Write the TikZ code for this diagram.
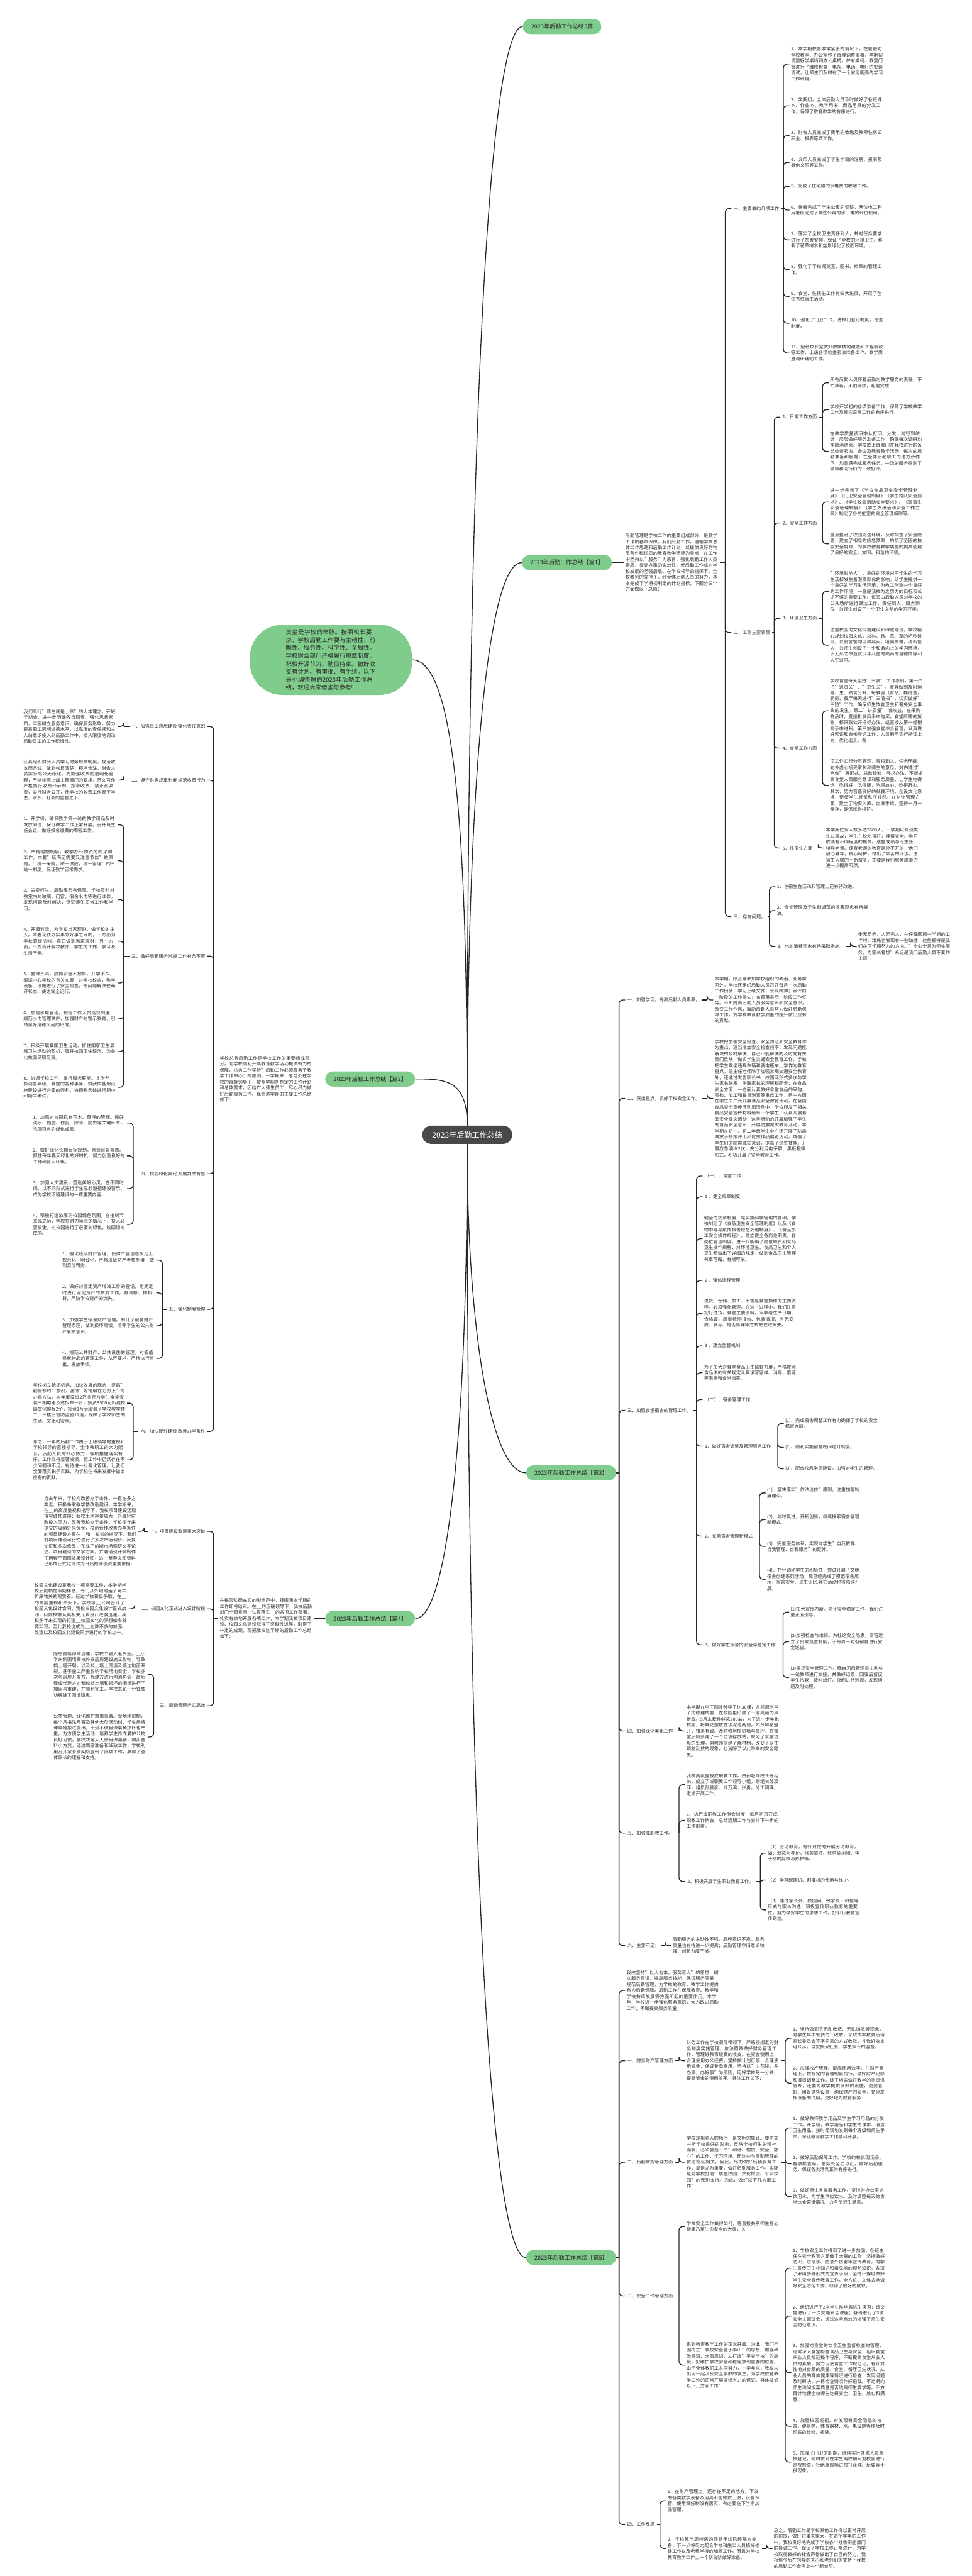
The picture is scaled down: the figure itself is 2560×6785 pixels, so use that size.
\documentclass[tikz,border=0pt]{standalone}
\usepackage{fontspec}
\setmainfont{Noto Sans CJK SC}
\usetikzlibrary{calc, positioning}
\XeTeXlinebreaklocale "zh"
\XeTeXlinebreakskip = 0pt plus 0.5pt
\definecolor{mygreen}{RGB}{128,204,140}
\definecolor{mydark}{RGB}{72,72,72}
\definecolor{mytext}{RGB}{45,45,45}
\newcommand{\tf}{\fontsize{3.41pt}{4.47pt}\selectfont}
% bracket connectors: parent to a list of children
\newcommand{\linkr}[2]{\foreach \ch in {#2}{%
  \draw[link] (#1.east) -- ([xshift=-1.6mm]#1.east -| \ch.west);
  \draw[link, rounded corners=1mm] ([xshift=-1.6mm]#1.east -| \ch.west) |- (\ch.west);}}
\newcommand{\linkl}[2]{\foreach \ch in {#2}{%
  \draw[link] (#1.west) -- ([xshift=1.6mm]#1.west -| \ch.east);
  \draw[link, rounded corners=1mm] ([xshift=1.6mm]#1.west -| \ch.east) |- (\ch.east);}}
\tikzset{
  txt/.style={font=\tf, text=mytext, text width=24.4mm, align=left, inner sep=0pt, outer xsep=0.4mm},
  lbl/.style={font=\tf, text=mytext, inner sep=0pt, outer xsep=0.6mm},
  pill/.style={fill=mygreen, rounded corners=2mm, minimum height=4mm, inner xsep=2.2mm, inner ysep=0pt, font=\fontsize{4.3pt}{5pt}\selectfont, text=black!85},
  centre/.style={fill=mydark, rounded corners=2.4mm, minimum height=4.8mm, inner xsep=2.6mm, font=\fontsize{5.7pt}{6.5pt}\selectfont, text=white},
  bubble/.style={fill=mygreen, rounded corners=8.5mm, minimum width=42.7mm, minimum height=17.9mm, text width=23.8mm, align=left, font=\fontsize{4.45pt}{5.95pt}\selectfont, text=black!85},
  link/.style={draw=black!85, line width=0.22mm},
  under/.style 2 args={anchor=north west, at={($(#1.south -| #2,0)+(0,42.3)$)}},
  midr/.style n args={3}{anchor=west, at={($(#1.west)!0.5!(#2.west)+(#3,0)$)}},
  midl/.style n args={3}{anchor=east, at={($(#1.east)!0.5!(#2.east)+(#3,0)$)}},
}
\begin{document}
\begin{tikzpicture}[x=0.1mm, y=-0.1mm]
\fill[white] (0,0) rectangle (2560,6785);
\useasboundingbox (0,0) rectangle (2560,6785);

\node[centre] (c) at (1231,2989) {2023年后勤工作总结};
\node[pill] (top) at (1481,70) {2023年后勤工作总结5篇};
\node[bubble] (intro) at (872,1738) {资金是学校的命脉。按照校长要求，学校后勤工作要有主动性、前瞻性、服务性、科学性、全局性。学校财会部门严格履行规章制度，积极开源节流、勤俭持家。做好收支有计划、有审批、有手续。以下是小编整理的2023年后勤工作总结，欢迎大家借鉴与参考!};

% ---------- 篇1 ----------
\node[txt, anchor=north west] (a1) at (2080,123) {1、本学期校舍非常紧张的情况下，在暑假对全校教室、办公室作了合理调整部署，学期初调整好学桌椅和办公桌椅，并对桌椅、教室门窗进行了维修检查，电视、电话、电灯的安装调试，让师生们及时有了一个安定明亮的学习工作环境。};
\node[txt, under={a1}{2080}] (a2) {2、学期初，全体后勤人员及时做好了各班课本、作业本、教学用书、用品用具的分发工作，保障了教育教学的有序进行。};
\node[txt, under={a2}{2080}] (a3) {3、财会人员完成了费用的收缴及教师住房公积金、报表等项工作。};
\node[txt, under={a3}{2080}] (a4) {4、文印人员完成了学生学籍的注册、报表及其他文印等工作。};
\node[txt, under={a4}{2080}] (a5) {5、完成了住宅楼的水电费的收缴工作。};
\node[txt, under={a5}{2080}] (a6) {6、暑假完成了学生公寓的调整，两位电工利用暑假完成了学生公寓的水、电的到位使用。};
\node[txt, under={a6}{2080}] (a7) {7、落实了全校卫生责任到人，并对任务要求进行了布置安排，保证了全校的环境卫生。移栽了花草树木和盆景绿化了校园环境。};
\node[txt, under={a7}{2080}] (a8) {8、强化了学校阅览室、图书、档案的管理工作。};
\node[txt, under={a8}{2080}] (a9) {9、食堂、住宿生工作有较大进展，开展了创优秀住宿生活动。};
\node[txt, under={a9}{2080}] (a10) {10、强化了门卫工作，进校门登记制度，巡查制度。};
\node[txt, under={a10}{2080}] (a11) {11、配合校长室做好教学楼的建造和工程验收等工作、上级各项检查验收准备工作、教学质量调研辅助工作。};
\node[txt, under={a11}{2183}] (b1) {所有后勤人员怀着后勤为教学服务的责任，不怕辛苦，不怕麻烦，超前完成};
\node[txt, under={b1}{2183}] (b2) {学校开学初的各项准备工作，保障了学校教学工作及其它日常工作的有序进行。};
\node[txt, under={b2}{2183}] (b3) {在教学质量调研中从打印、分发、封钉到统计，层层做好服务准备工作，确保每次调研均能圆满结束。学校或上级部门在我校进行的各类检查验收、会议及教育教学活动，每次的后勤准备和服务，在全体后勤职工的通力合作下，均圆满完成服务任务，一流的服务得到了领导和同行们的一致好评。};
\node[txt, under={b3}{2183}] (c1) {进一步完善了《学校食品卫生安全管理制度》《门卫安全管理制度》《学生路队安全要求》、《学生校园活动安全要求》、《寄宿生安全管理制度》《学生外出活动安全工作方案》制定了各功能室的安全管理细则等。};
\node[txt, under={c1}{2183}] (c2) {重点整治了校园周边环境，及时排查了安全隐患，建立了相应的应急预案，构筑了坚固的校园安全屏障，为学校教育教学质量的提高创建了良好的安全、文明、和谐的环境。};
\node[txt, under={c2}{2183}] (d1) {"环境影响人"，良好的环境对于学生的学习生活都发生着潜移默化的影响。给学生提供一个良好的学习生活环境，为教工创造一个良好的工作环境，一直是我校为之努力的目标和长抓不懈的重要工作。每天由后勤人员对学校的公共场所进行保洁工作，责任到人，服务到位，为师生创设了一个卫生文明的学习环境。};
\node[txt, under={d1}{2183}] (d2) {注重校园的文化设施建设和绿化建设。学校精心规划校园文化，以林、路、花、草的巧秒设计，以名言警句点缀其间，精美高雅，清新怡人，为师生创设了一个和谐向上的学习环境，于无形之中造就少年儿童的高尚的道德情操和人生追求。};
\node[txt, under={d2}{2183}] (e1) {学校食堂每天坚持"三项" 工作原则，第一严把"进货关"、"卫生关"。餐具做到及时消毒，生、熟食分开，每餐留（食品）样待查，厨房、餐厅每天进行"三清扫"，切实做好"三防"工作，确保师生饮食卫生和避免安全事故的发生。第二"讲质量" 增效益，在采购物品时，直接批发商手中购买。食堂所需的货物，都采取公开招标办法，或直接从第一经销商手中进货。第三加强食堂综合管理，认真做好索证和台帐登记工作，人员聘用实行持证上岗，优化组合。各};
\node[txt, under={e1}{2183}] (e2) {项工作实行分层管理，责权到人，任务明确。对外虚心接受家长和师生的意见，对内通过"例会" 等形式，总结经验，寻求办法，不断提高食堂人员服务意识和服务质量，让学生吃得饱，吃得好，吃得暖，吃得放心，吃得舒心。其次，努力营造良好的就餐环境，创设文化意境，促使学生就餐秩序井然。在财物管理方面，建全了物资入库、出库手续，坚持一月一盘存，确保帐物相符。};
\node[txt, under={e2}{2172}] (f1) {本学期住宿人数多达2600人，一学期以来没发生过事故，学生在校吃得好，睡得安全。学习成绩有不同程度的提高。这些成绩与班主任、辅导老师、保育老师的教育是分不开的，他们耐心辅导，精心呵护，付出了辛苦的汗水。住宿生人数的不断增多，主要是我们服务质量的进一步提高所然。};
\node[txt, under={f1}{2043}] (g1) {1、住宿生在活动和管理上还有待改进。};
\node[txt, under={g1}{2043}] (g2) {2、食堂管理及学生剩饭菜的浪费现象有待解决。};
\node[txt, under={g2}{2257}] (g4) {金无足赤，人无完人，在仔细回顾一学期的工作时，难免也发现有一些缺憾，这些都将是我们在下学期努力的方向。"全心全意为师生服务，为家长着想"永远是我们后勤人员不变的主题!};
\node[lbl, midr={g4}{g4}{-214}] (g3) {3、电的浪费现象有待采取措施。};
\node[lbl, midr={a1}{a11}{-153}] (l11) {一、主要做的几项工作};
\node[lbl, midr={b1}{b3}{-127}] (m1) {1、日常工作方面};
\node[lbl, midr={c1}{c2}{-127}] (m2) {2、安全工作方面};
\node[lbl, midr={d1}{d2}{-127}] (m3) {3、环境卫生方面};
\node[lbl, midr={e1}{e2}{-127}] (m4) {4、食堂工作方面};
\node[lbl, midr={f1}{f1}{-116}] (m5) {5、住宿生方面};
\node[lbl, midr={m1}{m5}{-129}] (l12) {二、工作主要表现};
\node[lbl, midr={g1}{g3}{-116}] (l13) {三、存在问题。};
\node[txt, midr={l11}{l13}{-283}] (in1) {后勤管理是学校工作的重要组成部分，是教学工作的基本保障。我们后勤工作，遵循学校总体工作思路和后勤工作计划，以提供良好的物质条件和优质的教育教学环境为重点，在工作中坚持以"服务"为宗旨，强化后勤工作人员素质，提高办事的实效性，使后勤工作成为学校发展的坚强后盾。在学校领导的指挥下，全校教师的支持下，经全体后勤人员的努力，基本完成了学期初制定的计划指标，下面分三个方面做以下总结：};
\node[pill, anchor=east] (p1) at ($(in1.west)+(-31,0)$) {2023年后勤工作总结【篇1】};

% ---------- 篇3 ----------
\node[txt, under={g4}{1879}] (h1) {本学期，除正常参加学校组织的政治、业务学习外，学校还组织后勤人员召开每月一次后勤工作例会，学习上级文件、会议精神；点评前一阶段的工作得失；布置落实后一阶段工作任务。不断提高后勤人员服务意识和安全意识，改变工作作风，鼓励后勤人员努力做好后勤保障工作，为学校教育教学质量的提升做出应有的贡献。};
\node[txt, under={h1}{1879}] (h2) {学校把加强安全检查、安全防范和安全教育作为重点，适当增加安全检查频率，发现问题能解决的及时解决，自己不能解决的及时向有关部门反映；做实学生交通安全教育工作，学校把学生乘坐违规车辆和骑电瓶车上学作为教育重点，班主任老师除了加强常规交通安全教育外，还通过发告家长书、校园网形式多次与学生家长联系，争取家长的理解和配合；在食品安全方面，一方面认真做好食堂食品的采购、质检、加工和餐具消毒等重点工作，另一方面在学生中广泛开展食品安全教育活动，在全国食品安全宣传活动周活动中，学校印发了相关食品安全宣传材料给每一个学生，认真开展食品安全征文活动，这些活动的开展增强了学生的食品安全意识；开展防震减灾教育活动，本学期在初一、初二年级学生中广泛开展了防震减灾手抄报评比和优秀作品展览活动，增强了学生们的防震减灾意识，提高了逃生技能。开展应急演练2次，充分利用电子屏、黑板报等形式，积极开展了安全教育工作。};
\node[lbl, under={h2}{1851}] (h3) {（一）、食堂工作};
\node[lbl, under={h3}{1851}] (h4) {1 、健全规章制度};
\node[txt, under={h4}{1851}] (h5) {健全的规章制度，是实施科学管理的基础，学校制定了《食品卫生安全管理制度》以及《食物中毒与疫情报告应急处理制度》、《食品加工安全操作规程》，建立健全各岗位职责，各岗位管理制度，进一步明确了岗位职责和食品卫生操作规程，对环境卫生、食品卫生和个人卫生都做出了详细的规定，做到食品卫生管理有章可循，有规可依。};
\node[lbl, under={h5}{1851}] (h6) {2 、强化流程管理};
\node[txt, under={h6}{1851}] (h7) {进货、仓储、加工、出售是食堂操作的主要流程，必须强化管理。在这一过程中，我们注意把好进货，食堂主要原料，采取看生产日期、合格证、质量检测报告、包装情况、有无变质、发芽、是否新鲜等方式把住进货关。};
\node[lbl, under={h7}{1851}] (h8) {3 、建立监督机制};
\node[txt, under={h8}{1851}] (h9) {为了加大对食堂食品卫生监督力度，严格按照食品法的有关规定认真填写留样、消毒、索证等表格和食堂档案。};
\node[lbl, under={h9}{1851}] (h10) {（二）、宿舍管理工作};
\node[txt, under={h10}{2065}] (j1) {(1)、完成宿舍调整工作有力确保了学校的安全稳定大局。};
\node[txt, under={j1}{2065}] (j2) {(2)、顺利实施宿舍晚间熄灯制度。};
\node[txt, under={j2}{2065}] (j3) {(3)、配合校风学风建设，加强对学生的管理。};
\node[txt, under={j3}{2017}] (k1) {(1)、坚决落实"依法治校"原则，注重加强制度建设。};
\node[txt, under={k1}{2017}] (k2) {(2)、与时俱进，开拓创新，继续探索宿舍管理新模式。};
\node[txt, under={k2}{2017}] (k3) {(3)、完善服务体系，实现向学生"自我教育、自我管理、自我服务"的延伸。};
\node[txt, under={k3}{2017}] (k4) {(4)、充分调动学生的积极性，尝试开展了文明宿舍创建系列活动，现已经完成了模范宿舍展示，宿舍安全、卫生评比,其它活动也将陆续开展。};
\node[txt, under={k4}{2079}] (n1) {(1)加大宣传力度。对于安全稳定工作，我们注重正面引导。};
\node[txt, under={n1}{2079}] (n2) {(2)加强检查与维修。为杜绝安全隐患，宿管建立了例常巡查制度，于每周一对各宿舍进行安全巡查。};
\node[txt, under={n2}{2079}] (n3) {(3)重视安全管理工作。晚自习后管理员主动与一线教师进行交接，并做好记录；回寝后督促学生洗簌，按时熄灯，夜间进行巡视，发现问题及时处理。};
\node[lbl, midr={j1}{j3}{-214}] (h11) {1、做好宿舍调整及管理服务工作};
\node[lbl, midr={k1}{k4}{-166}] (h12) {2、完善宿舍管理新模式};
\node[lbl, midr={n1}{n3}{-228}] (h13) {3、做好学生宿舍的安全与稳定工作};
\node[txt, under={n3}{1805}] (q1) {本学期在李子园补种李子树30棵，并将原有李子树修建成型，在校园里形成了一道亮丽的风景线。5月末栽种鲜花200盆，为了进一步美化校园，将鲜花摆放在水泥道两侧，如今鲜花盛开，错落有致。及时修剪榆树墙与草坪。在食堂后侧新建了一个垃圾存放站，规范了食堂垃圾的处理。男教师搭建了烧材棚，改变了以往烧材乱放的现象，也消除了以此带来的安全隐患。};
\node[txt, under={q1}{1805}] (r1) {我校高度重视成职教工作，由孙艳辉校长任组长，成立了成职教工作领导小组，副组长邹凌菲，组员孙曾彦、叶万滨、张勇。分工明确，定期开展工作。};
\node[txt, under={r1}{1805}] (r2) {1、执行成职教工作例会制度，每月初召开成职教工作例会，总结近期工作与安排下一步的工作部署。};
\node[txt, under={r2}{2019}] (s1) {（1）劳动教育，有针对性的开展劳动教育，如：栽花与养护，修剪草坪、修剪榆树墙、李子树的剪枝与养护等。};
\node[txt, under={s1}{2019}] (s2) {（2）学习绿篱机、割灌机的使用与维护。};
\node[txt, under={s2}{2019}] (s3) {（3）通过家长会、校园网、致家长一封信等形式与家长沟通，积极宣传职业教育的重要性，努力做好学生的思想工作，把职业教育宣传到位。};
\node[lbl, midr={s1}{s3}{-214}] (r3) {2、积极开展学生职业教育工作。};
\node[txt, under={s3}{1768}] (t1) {后勤服务的主动性不强，品牌意识不高，服务质量也有待进一步提高；后勤管理守旧意识较强，创新力度不够。};
\node[lbl, midr={h1}{h1}{-232}] (l31) {一、加强学习，提高后勤人员素养。};
\node[lbl, midr={h2}{h2}{-232}] (l32) {二、突出重点，抓好学校安全工作。};
\node[lbl, midr={h3}{h13}{-204}] (l33) {三、加强食堂宿舍的管理工作。};
\node[lbl, midr={q1}{q1}{-158}] (l34) {四、加强绿化美化工作};
\node[lbl, midr={r1}{r3}{-158}] (l35) {五、加强成职教工作。};
\node[lbl, midr={t1}{t1}{-121}] (l36) {六、主要不足：};
\node[pill, anchor=east] (p3) at ($(l31.west)!0.5!(l36.west)+(-23,0)$) {2023年后勤工作总结【篇3】};

% ---------- 篇5 ----------
\node[txt, under={t1}{1647}] (u0) {我校坚持"以人为本，服务育人"的思想，树立服务意识，提高服务技能，保证服务质量，规范后勤管理，为学校的教育、教学工作提供有力后勤保障。后勤工作在保障教育、教学和学校持续发展等方面所起的重要作用。本学年，学校进一步强化服务意识，大力改进后勤工作，不断提高服务质量。};
\node[txt, under={u0}{2085}] (v1) {1、坚持做到了无乱收费、无乱摊派等现象，对学生早中餐费的'收取，采取成本核算后请家长委员会签字同意的方式收取，并做好收支月公示，自觉接受社会、学生家长的监督。};
\node[txt, under={v1}{2085}] (v2) {2、加强校产管理、提高使用效率。在财产管理上，按规定的管理制度执行，做好财产记账和报损调整工作。除了切实做好教学的物资供应外，还要为教学提供良好的设施，更要管好、用好这些设施，确保财产的安全，充分发挥设备的作用，更好地为教育服务};
\node[txt, midr={v1}{v2}{-280}] (w1) {财务工作在学校领导带领下，严格按规定的财务制度实施管理，依法照章做好财务管理工作，管理好教育经费的收支。在资金使用上，合理使用办公经费，坚持按计划行事，合理使用资金，保证专款专用，坚持以"少花钱，多办事，办好事"为原则，用好学校每一分钱，提高资金的使用效率。具体工作如下：};
\node[txt, under={v2}{2085}] (x1) {1、做好教师教学用品及学生学习用品的分发工作。开学初，教学用品和学生的课本、清洁卫生用品，按时无误地发到每个班级和师生手中，保证教育教学工作顺利开展。};
\node[txt, under={x1}{2085}] (x2) {2、做好后勤保障工作。学校的校长现场会、各项检查等，总务处全力以赴，做好后勤服务，保证各类活动正常有序进行。};
\node[txt, under={x2}{2085}] (x3) {3、做好师生各类服务工作。坚持为办公室送饮用水，为学生供应饮水。及时调整每天的食堂饮食菜谱情况，力争使师生满意。};
\node[txt, midr={x1}{x3}{-280}] (w2) {学校是培养人的场所，是文明的象征。要树立一所学校良好的形象，反映全校师生的精神面貌，必须营造一个"和谐、愉悦、安全、舒心"的工作、学习环境。而这些与后勤管理的优劣密切相关。因此，尽力做好后勤服务工作，显得尤为重要，做好后勤服务工作，实际是对学校打造"质量校园、文化校园、平安校园"的无形支持。为此，做好以下几方面工作：};
\node[txt, under={x3}{1805}] (y0) {学校安全工作做得如何，将直接关系师生身心健康乃至生命安全的大事，关};
\node[txt, under={y0}{2085}] (y1) {1、学校安全工作得到了进一步加强，各班主任在安全教育方面做了大量的工作，坚持做好防火、防溺水、防意外伤害等宣传教育，向学生宣传卫生小知识和常见病的预防知识。各班了采用多种形式的宣传手段，坚持不懈地做好学生安全宣传教育工作，全方位、立体式地做好安全防范工作，取得了很好的成效。};
\node[txt, under={y1}{2085}] (y2) {2、组织进行了2次学生防地震逃生演习；请交警进行了一次交通安全讲座；各班进行了3次安全主题班会，通过这些有效的增强了师生安全防范意识。};
\node[txt, under={y2}{2085}] (y3) {3、加强对食堂的饮食卫生监督检查的管理，经常深入食堂检查食品卫生与安全，组织食堂从业人员规范操作程序，不断提高食堂从业人员的素质，努力促使食堂工作规范化。有针对性地对食品的质量、食堂、餐厅卫生状况、从业人员的身体健康等情况进行检查，发现问题及时解决，并将检查情况作好记载。不定期向师生询问饭菜质量是否达到师生要求等，千方百计地使全校师生吃得安全、卫生、放心和满意。};
\node[txt, under={y3}{2085}] (y4) {4、加强校园巡视，对发现有安全隐患的校舍、建筑物、体育器材、水、电设施等作及时彻底的维修、排除。};
\node[txt, under={y4}{2085}] (y5) {5、加强了门卫的职能，继续实行外来人员来校登记，同时做到在学生离校期间对校园进行巡视检查，杜绝爬围墙进校打篮球、玩耍等不良现象。};
\node[txt, midr={y1}{y5}{-280}] (w3) {系到教育教学工作的正常开展。为此，我们牢固树立"学校安全重于泰山"的思想，增强政治意识、大局意识，从打造"平安学校"的高度，把维护学校安全和稳定放到重要的位置。由于全体教职工共同努力，一学年来，我校未出现一起涉及安全事故的发生，为学校教育教学工作的正常开展提供有力的保证。具体做好以下几方面工作：};
\node[txt, under={y5}{1755}] (z1) {1、在财产管理上，还存在不足的地方，下发的各类教学设备及用具不能如数上缴，设备保管、使用责任制没有落实，有必要在下学期加强管理。};
\node[txt, under={z1}{2035}] (z3) {总之，后勤工作是学校其他工作得以正常开展的前提，做好它事关重大，在这个学年的工作中，我校良好地完成了学校各个社会职能部门的协调工作，保证了学校工作正常进行，为学校取得良好的社会声誉做出了自己的努力。我相信今后在领导的关心和老师们的支持下我校的后勤工作会再上一个新台阶。};
\node[txt, midr={z3}{z3}{-280}] (z2) {2、学校教学周转房的修建手续已经基本完备，下一步将尽力配合学校和施工人员搞好修建工作以及老教学楼的加固工作，而且为学校教育教学工作上一个新台阶做好准备。};
\node[lbl, midr={w1}{w1}{-158}] (l51) {一、财务财产管理方面};
\node[lbl, midr={w2}{w2}{-158}] (l52) {二、后勤常规管理方面};
\node[lbl, midr={y0}{w3}{-158}] (l53) {三、安全工作管理方面};
\node[lbl, midr={z1}{z2}{-108}] (l54) {四、工作反思};
\node[pill, anchor=east] (p5) at ($(u0.west)!0.5!(l54.west)+(-23,0)$) {2023年后勤工作总结【篇5】};

% ---------- 篇2 ----------
\node[txt, anchor=north west] (L1) at (58,1868) {我们奉行"师生就是上帝"的人本理念，开好学期会。进一步明确各自职责，强化思想素质，牢固树立服务意识，确保服务形象。努力提高职工思想道德水平，以高度的责任感和主人翁意识投入到后勤工作中，极大限度地调动后勤员工的工作积极性。};
\node[txt, under={L1}{58}] (L2) {认真组织财会人员学习财务规章制度，规范收支两条线。做到帐目清楚，程序合法，财会人员实行办公无纸化。为加强收费的透明化管理，严格按照上级主管部门的要求，范文写作严格执行收费公示制，按章收费，禁止乱收费，实行财务公开，使学校的收费工作置于学生、家长、社会的监督之下。};
\node[txt, under={L2}{58}] (M1) {1、开学初，确保教学第一线的教学用品及时发放到位，保证教学工作正常开展。召开班主任会议，做好报名缴费的周密工作。};
\node[txt, under={M1}{58}] (M2) {2、严格购物制度，教学办公物资的的采购工作，本着"既满足需要又注重节俭"的原则，"统一采购，统一供应，统一管理"的三统一制度，保证教学正常需求。};
\node[txt, under={M2}{58}] (M3) {3、关爱师生，后勤服务有保障。学校及时对教室内的玻璃、门窗，宿舍水电等进行维修，发现问题及时解决，保证师生正常工作和学习。};
\node[txt, under={M3}{58}] (M4) {4、开源节流，为学校当家理财，做学校的主人。本着花钱办实事办好事之目的，一方面为学校算经济帐，真正做到当家理财；另一方面，千方百计解决教师、学生的工作、学习及生活所需。};
\node[txt, under={M4}{58}] (M5) {5、警钟长鸣，狠抓安全不放松。开学不久，根据中心学校的有关布置，对学校校舍，教学设备、设施进行了安全检查，把问题解决在萌芽状态，使之安全运行。};
\node[txt, under={M5}{58}] (M6) {6、加强水电管理。制定工作人员巡视制度，规范水电管理秩序，加强财产的警示教育，引领良好道德风尚的形成。};
\node[txt, under={M6}{58}] (M7) {7、积极开展爱国卫生运动。抓住国家卫生县城卫生运动的契机，展开校园卫生整治，为美化校园尽职尽责。};
\node[txt, under={M7}{58}] (M8) {8、协调学校工作，履行服务职能。本学年，协调各年级、食堂的各种事务，对我校基础设施建设进行必要的倾斜，协调教务处进行期中和期末考试。};
\node[txt, under={M8}{83}] (N1) {1、加强对校园已有花木、草坪的管理。抓好浇水、施肥、修剪、除草、防虫等关键环节，巩固已有的绿化成果。};
\node[txt, under={N1}{83}] (N2) {2、做好绿化长期目标规划，营造良好氛围。抓住每年春天绿化的好时机，努力创造良好的工作和育人环境。};
\node[txt, under={N2}{83}] (N3) {3、加强人文建设，塑造美好心灵。在不同时间、以不同形式进行学生思想道德建设警示，成为学校环境建设的一项重要内容。};
\node[txt, under={N3}{83}] (N4) {4、积极打造浓厚的校园绿色氛围。在植树节来临之际，学校在财力紧张的情况下，投入必要资金，对校园进行了必要的绿化，校园绿树成荫。};
\node[txt, under={N4}{160}] (O1) {1、强化班级财产管理，使财产管理逐步走上规范化，明细化，严格班级财产考核制度，做到奖优罚劣。};
\node[txt, under={O1}{160}] (O2) {2、做好对固定资产增减工作的登记，定期定时进行固定资产的核对工作，做到帐、物相符，严防学校财产的流失。};
\node[txt, under={O2}{160}] (O3) {3、加强学生宿舍财产管理。制订了宿舍财产管理条理，做到损坏赔偿，培养学生的公共财产爱护意识。};
\node[txt, under={O3}{160}] (O4) {4、规范公共财产、公共设施的管理。对低值易耗物品的管理工作，从严要求，严格执行审批、发放手续。};
\node[txt, under={O4}{83}] (Q1) {学校树立抢抓机遇、加快发展的观念，提倡"勤俭节约"意识，坚持"好钢用在刀刃上"的办事方法，本年度投资2万多元为学生食堂安装三相电路及煮饭车一台，投资8500元新建校园文化展板2个，投资1万元安装了学校教学楼二、三楼后窗防盗窗17道，保障了学校师生的生活、文化和安全。};
\node[txt, under={Q1}{83}] (Q2) {总之，一年的后勤工作由于上级领导的重视和学校领导的直接指导，全体教职工的大力配合，后勤人员的齐心协力，各项措施落实有序，工作取得显著成绩。但工作中仍然存在不少问题和不足，有待进一步强化管理。让我们全面落实锐于实践，为学校在将来发展中做出应有的贡献。};
\node[lbl, midl={L1}{L1}{237}] (l21) {一、加强员工思想建设 强化责任意识};
\node[lbl, midl={L2}{L2}{237}] (l22) {二、遵守财务规章制度 规范收费行为};
\node[lbl, midl={M1}{M8}{237}] (l23) {三、做好后勤服务常规 工作有条不紊};
\node[lbl, midl={N1}{N4}{212}] (l24) {四、校园绿化美化 开展井然有序};
\node[lbl, midl={O1}{O4}{135}] (l25) {五、强化制度管理};
\node[lbl, midl={Q1}{Q2}{212}] (l26) {六、加快硬件建设 改善办学条件};
\node[txt, midl={l21}{l26}{280}] (in2) {学校总务后勤工作是学校工作的重要组成部分。为学校顺利开展教育教学活动提供有力的保障，总务工作坚持"后勤工作必须服务于教学工作中心"的原则。一学期来，总务处在学校的直接领导下，按照学期初制定的工作计划和总体要求，团结广大师生员工，尽心尽力做好后勤服务工作。现将这学期的主要工作总结如下：};
\node[pill, anchor=west] (p2) at ($(in2.east)+(29,0)$) {2023年后勤工作总结【篇2】};

% ---------- 篇4 ----------
\node[txt, under={Q2}{112}] (R1) {自去年来，学校为改善办学条件，一直在多方奔走、积极争取教学楼改造建设，本学期来，在\_\_的高度重视和指导下，我校项目建设迈取得突破性进展：我校土地存量较大，为减轻财政投入压力，改善我校办学条件，学校多年来提交的吸纳外来资金，校商合作改善办学条件的项目建设方案在\_\_和\_\_校长的指导下，我们对项目建设可行性进行了多次市场调研，反复论证和多次修改，完成了前期市场调研文字论述、项目建设的文字方案，并聘请设计院制作了两套平面图效果设计图，这一整套文图资料已形成正式定论作为日后招商引资重要依据。};
\node[txt, under={R1}{87}] (R2) {校园文化建设是我校一项重要工作，本学期学校后勤牺牲假期休息，专门从外地购运了两车价廉物美的观赏石。经过学校积极争取，在\_\_的高度重视和牵头下，学校与\_\_公司签订了校园文化设计合同，我校校园文化设计正式启动，目前校徽及其相关元素设计进展迅速。我校多年未实现的打造\_\_校园文化的梦想如今就要实现，至此我校也成为\_\_为数不多的加固、改造以及校园文化建设同步进行的学校之一。};
\node[txt, under={R2}{137}] (S1) {隐患围墙得到治理，学校节省大笔资金。\_\_小学东侧围墙受校外安居房建设施工影响，导致挡土墙开裂，以及挡土墙上围墙及墙边地面开裂，基于施工严重影响学校场地安全，学校多次与房屋开发方、代建方进行沟通协调，最后促成代建方对我校挡土墙和损坏的围墙进行了加固与重建，并顺利完工，学校未花一分钱成功解除了围墙隐患。};
\node[txt, under={S1}{137}] (S2) {公物管理、绿化维护效果显著。受场地限制，每个月书法月赛及其他大型活动时，学生需将课桌椅搬进搬出，十分不便且课桌椅损坏也严重，为方便学生活动，培养学生养成爱护公物良好习惯，学校决定人人使用课桌套，购买塑料小方凳。经过周密准备和细致工作，学校利用召开家长会契机宣传了此项工作，赢得了全体家长的理解和支持。};
\node[lbl, midl={R1}{R1}{183}] (l41) {一、项目建设取得重大突破};
\node[lbl, midl={R2}{R2}{208}] (l42) {二、校园文化正式进入设计阶段};
\node[lbl, midl={S1}{S2}{158}] (l43) {三、后勤管理务实高效};
\node[txt, midl={l41}{l43}{280}] (in4) {在每天忙碌充实的脚步声中，转眼间本学期的工作即将结束。在\_\_的正确领导下，我校后勤部门全面贯彻、认真落实\_\_的各项工作部署，扎实有效地开展各项工作，本学期我校项目建设、校园文化建设取得了突破性进展，取得了一定的成绩，现把我校这学期的后勤工作总结如下：};
\node[pill, anchor=west] (p4) at ($(in4.east)+(29,0)$) {2023年后勤工作总结【篇4】};

% ---------- connectors ----------
\draw[link] (c.north) .. controls +(0,-1800) and +(-90,0) .. (top.west);
\draw[link] (c.north) .. controls +(0,-700) and +(120,0) .. (intro.east);
\draw[link] (c.north) .. controls +(0,-900) and +(-90,0) .. (p1.west);
\draw[link] (c.north) .. controls +(0,-120) and +(80,0) .. (p2.east);
\draw[link] (c.south) .. controls +(0,500) and +(-90,0) .. (p3.west);
\draw[link] (c.south) .. controls +(0,800) and +(80,0) .. (p4.east);
\draw[link] (c.south) .. controls +(0,1900) and +(-90,0) .. (p5.west);

\draw[link] (p1.east) -- (in1.west);
\linkr{in1}{l11,l12,l13}
\linkr{l11}{a1,a2,a3,a4,a5,a6,a7,a8,a9,a10,a11}
\linkr{l12}{m1,m2,m3,m4,m5}
\linkr{m1}{b1,b2,b3}
\linkr{m2}{c1,c2}
\linkr{m3}{d1,d2}
\linkr{m4}{e1,e2}
\linkr{m5}{f1}
\linkr{l13}{g1,g2,g3}
\linkr{g3}{g4}

\linkr{p3}{l31,l32,l33,l34,l35,l36}
\linkr{l31}{h1}
\linkr{l32}{h2}
\linkr{l33}{h3,h4,h5,h6,h7,h8,h9,h10,h11,h12,h13}
\linkr{h11}{j1,j2,j3}
\linkr{h12}{k1,k2,k3,k4}
\linkr{h13}{n1,n2,n3}
\linkr{l34}{q1}
\linkr{l35}{r1,r2,r3}
\linkr{r3}{s1,s2,s3}
\linkr{l36}{t1}

\linkr{p5}{u0,l51,l52,l53,l54}
\linkr{l51}{w1}
\linkr{w1}{v1,v2}
\linkr{l52}{w2}
\linkr{w2}{x1,x2,x3}
\linkr{l53}{y0,w3}
\linkr{w3}{y1,y2,y3,y4,y5}
\linkr{l54}{z1,z2}
\linkr{z2}{z3}

\draw[link] (in2.east) -- (p2.west);
\linkl{in2}{l21,l22,l23,l24,l25,l26}
\linkl{l21}{L1}
\linkl{l22}{L2}
\linkl{l23}{M1,M2,M3,M4,M5,M6,M7,M8}
\linkl{l24}{N1,N2,N3,N4}
\linkl{l25}{O1,O2,O3,O4}
\linkl{l26}{Q1,Q2}

\draw[link] (in4.east) -- (p4.west);
\linkl{in4}{l41,l42,l43}
\linkl{l41}{R1}
\linkl{l42}{R2}
\linkl{l43}{S1,S2}
\end{tikzpicture}
\end{document}
